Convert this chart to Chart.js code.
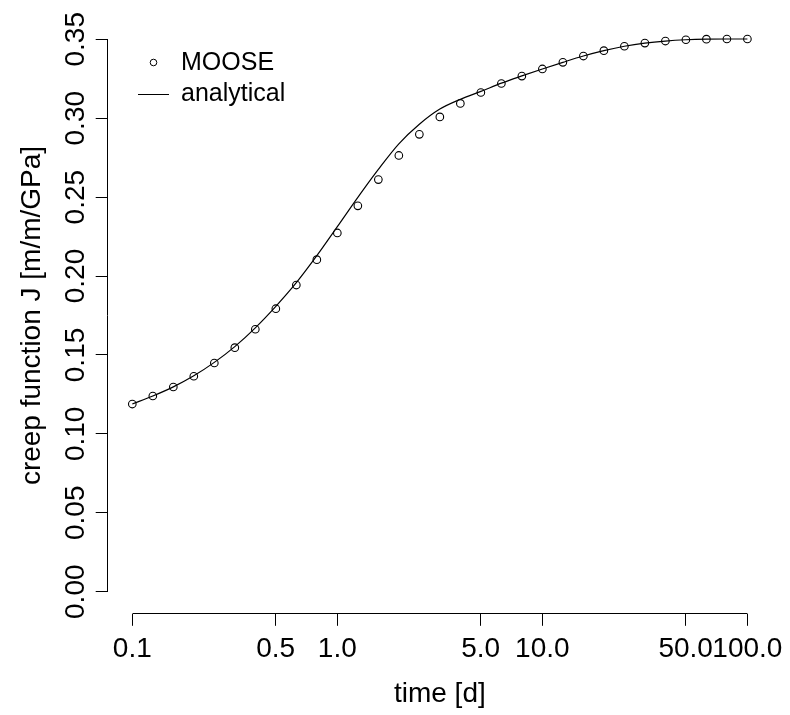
<!DOCTYPE html>
<html><head><meta charset="utf-8">
<script src="https://cdn.jsdelivr.net/npm/chart.js@4.4.1/dist/chart.umd.min.js"></script>
<style>html,body{margin:0;padding:0;background:#fff;}canvas{display:block;}</style>
</head><body>
<canvas id="c" width="790" height="715"></canvas>
<script>
// ---- data ----
const timeDays = [0.1, 0.1259, 0.1585, 0.1995, 0.2512, 0.3162, 0.3981, 0.5012, 0.6310, 0.7943,
  1.0, 1.259, 1.585, 1.995, 2.512, 3.162, 3.981, 5.012, 6.310, 7.943,
  10, 12.59, 15.85, 19.95, 25.12, 31.62, 39.81, 50.12, 63.10, 79.43, 100];
const mooseJ = [0.1189, 0.1240, 0.1297, 0.1365, 0.1449, 0.1546, 0.1663, 0.1793, 0.1943, 0.2104,
  0.2273, 0.2445, 0.2611, 0.2764, 0.2898, 0.3008, 0.3094, 0.3163, 0.3220, 0.3267,
  0.3312, 0.3354, 0.3394, 0.3428, 0.3456, 0.3476, 0.3489, 0.3497, 0.3501, 0.3502, 0.3502];
const analyticalJ = [0.1189, 0.1240, 0.1298, 0.1368, 0.1453, 0.1553, 0.1672, 0.1808, 0.1958, 0.2129,
  0.2313, 0.2499, 0.2676, 0.2838, 0.2962, 0.3058, 0.3120, 0.3170, 0.3222, 0.3268,
  0.3312, 0.3354, 0.3394, 0.3428, 0.3456, 0.3476, 0.3489, 0.3497, 0.3501, 0.3502, 0.3502];
const seriesNames = ['MOOSE', 'analytical'];
const xTickValues = [0.1, 0.5, 1, 5, 10, 50, 100];
const xTickLabels = ['0.1', '0.5', '1.0', '5.0', '10.0', '50.0', '100.0'];
const yTickValues = [0, 0.05, 0.10, 0.15, 0.20, 0.25, 0.30, 0.35];
const yTickLabels = ['0.00', '0.05', '0.10', '0.15', '0.20', '0.25', '0.30', '0.35'];
const xTitle = 'time [d]';
const yTitle = 'creep function J [m/m/GPa]';

// ---- styling ----
const FONT = "'Liberation Sans', Arial, Helvetica, sans-serif";
Chart.defaults.font.family = FONT;
Chart.defaults.color = '#000';

const xMin = Math.pow(10, -1.12), xMax = Math.pow(10, 2.12);   // R-style 4% axis extension
const yMin = -0.014, yMax = 0.364;

// Axis lines drawn only between first and last tick (R style)
const rAxisLines = {
  id: 'rAxisLines',
  afterDraw(chart) {
    const {ctx, chartArea, scales} = chart;
    const al = v => Math.round(v - 0.5) + 0.5;
    ctx.save();
    ctx.strokeStyle = '#000';
    ctx.lineWidth = 1;
    ctx.beginPath();
    const yb = al(chartArea.bottom);
    ctx.moveTo(al(scales.x.getPixelForValue(xTickValues[0])), yb);
    ctx.lineTo(al(scales.x.getPixelForValue(xTickValues[xTickValues.length - 1])), yb);
    const xl = al(chartArea.left);
    ctx.moveTo(xl, al(scales.y.getPixelForValue(yTickValues[0])));
    ctx.lineTo(xl, al(scales.y.getPixelForValue(yTickValues[yTickValues.length - 1])));
    ctx.stroke();
    ctx.restore();
  }
};

// Legend (R style: symbol column, then label)
const rLegend = {
  id: 'rLegend',
  afterDraw(chart) {
    const {ctx} = chart;
    const ds = chart.data.datasets;
    ctx.save();
    ctx.strokeStyle = '#000';
    ctx.fillStyle = '#000';
    ctx.lineWidth = 1;
    // MOOSE symbol
    ctx.beginPath();
    ctx.arc(153.5, 62.5, 3.3, 0, Math.PI * 2);
    ctx.stroke();
    // analytical symbol
    ctx.beginPath();
    ctx.moveTo(138, 94.5);
    ctx.lineTo(169, 94.5);
    ctx.stroke();
    ctx.font = '25px ' + FONT;
    ctx.textAlign = 'left';
    ctx.textBaseline = 'alphabetic';
    ctx.fillText(ds[0].label, 181, 70);
    ctx.fillText(ds[1].label, 181, 100.5);
    ctx.restore();
  }
};

new Chart(document.getElementById('c'), {
  type: 'scatter',
  data: {
    datasets: [
      {
        label: seriesNames[0],
        data: timeDays.map((t, i) => ({x: t, y: mooseJ[i]})),
        showLine: false,
        pointStyle: 'circle',
        pointRadius: 3.8,
        pointBorderWidth: 1.1,
        pointBorderColor: '#000',
        pointBackgroundColor: 'rgba(0,0,0,0)',
        order: 1
      },
      {
        label: seriesNames[1],
        data: timeDays.map((t, i) => ({x: t, y: analyticalJ[i]})),
        showLine: true,
        borderColor: '#000',
        borderWidth: 1.2,
        pointRadius: 0,
        cubicInterpolationMode: 'monotone',
        order: 2
      }
    ]
  },
  options: {
    responsive: false,
    animation: false,
    devicePixelRatio: 1,
    layout: {padding: {left: 0, right: 15.3, top: 17.2, bottom: 0}},
    plugins: {legend: {display: false}, tooltip: {enabled: false}},
    scales: {
      x: {
        type: 'logarithmic',
        position: 'bottom',
        min: xMin,
        max: xMax,
        afterBuildTicks: s => { s.ticks = xTickValues.map(v => ({value: v})); },
        afterFit: s => { s.height = 715 - 613.8; },
        grid: {display: true, drawOnChartArea: false, drawTicks: true, tickLength: 12, tickColor: '#000', tickWidth: 1, color: '#000'},
        border: {display: false},
        ticks: {
          autoSkip: false, maxRotation: 0, minRotation: 0, padding: 7,
          font: {size: 28, family: FONT}, color: '#000',
          callback: (v, i) => xTickLabels[i]
        },
        title: {display: true, text: xTitle, font: {size: 28, family: FONT}, color: '#000', padding: {top: 0, bottom: 4.3}}
      },
      y: {
        type: 'linear',
        position: 'left',
        min: yMin,
        max: yMax,
        afterBuildTicks: s => { s.ticks = yTickValues.map(v => ({value: v})); },
        afterFit: s => { s.width = 107.7; },
        grid: {display: true, drawOnChartArea: false, drawTicks: true, tickLength: 12, tickColor: '#000', tickWidth: 1, color: '#000'},
        border: {display: false},
        ticks: {
          autoSkip: false, minRotation: 90, maxRotation: 90, crossAlign: 'center', padding: -8.1,
          font: {size: 28, family: FONT}, color: '#000',
          callback: (v, i) => yTickLabels[i]
        },
        title: {display: true, text: yTitle, font: {size: 28, family: FONT}, color: '#000', padding: {top: 15.1, bottom: 0}}
      }
    }
  },
  plugins: [rAxisLines, rLegend]
});
</script>
</body></html>
